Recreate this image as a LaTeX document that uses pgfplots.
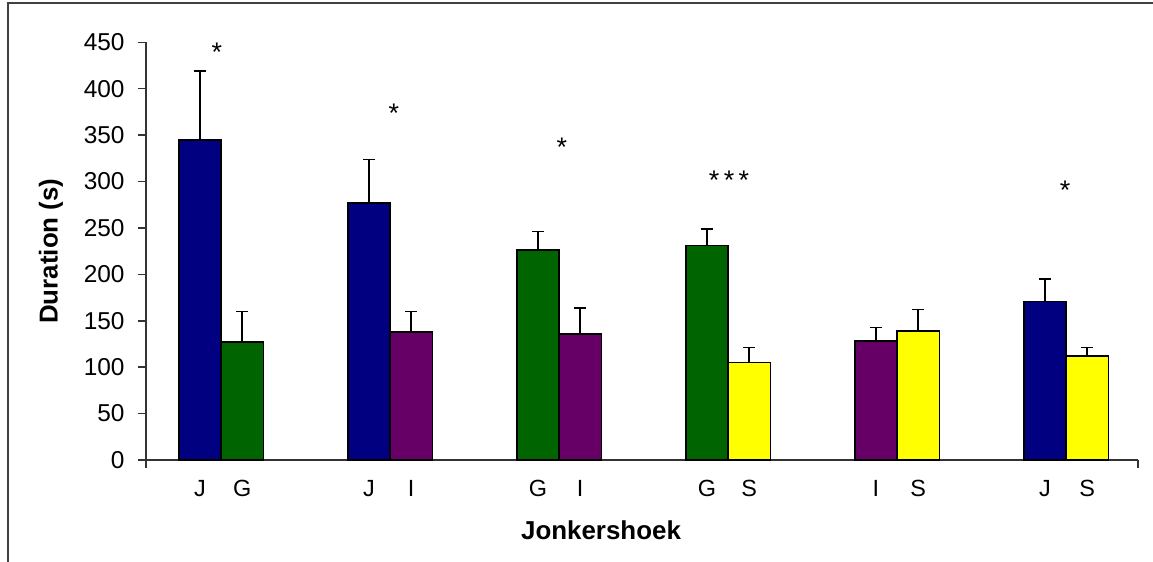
\documentclass[border=0pt]{standalone}
\usepackage{pgfplots}
\pgfplotsset{compat=1.18}
\usepackage{fontspec}
\setmainfont{Liberation Sans}
\definecolor{cJ}{RGB}{0,0,128}
\definecolor{cG}{RGB}{0,100,0}
\definecolor{cI}{RGB}{102,0,102}
\definecolor{cS}{RGB}{255,255,0}
\begin{document}
\begin{tikzpicture}
\path[use as bounding box] (0,0) rectangle (1153bp,562bp);
\draw[line width=2.2bp, black!75] (8bp,0) -- (8bp,559bp) -- (1153bp,559bp);
\begin{axis}[
  at={(146bp,102bp)}, anchor=south west,
  scale only axis, width=992bp, height=417.7bp,
  xmin=-0.444, xmax=5.426, ymin=0, ymax=450,
  axis x line=bottom, axis y line=left,
  axis line style={-, line width=1.5bp, black!80},
  ytick={0,50,...,450},
  ytick style={line width=1.5bp, black!80},
  y tick label style={font=\fontsize{24.5}{28}\selectfont, xshift=-10bp},
  /pgf/number format/assume math mode=true,
  tick align=outside,
  major tick length=8bp,
  xtick={-0.125,0.125,0.875,1.125,1.875,2.125,2.875,3.125,3.875,4.125,4.875,5.125},
  xticklabels={J,G,J,I,G,I,G,S,I,S,J,S},
  x tick style={draw=none},
  x tick label style={font=\fontsize{23.5}{26}\selectfont, yshift=-9bp},
  extra x ticks={-0.444,5.426},
  extra x tick labels={},
  extra x tick style={x tick style={draw=black!80, line width=1.5bp}, major tick length=8bp},
  xlabel={Jonkershoek},
  xlabel style={font=\bfseries\fontsize{26}{30}\selectfont, at={(axis description cs:0.4587,-0.1676)}, anchor=center},
  ylabel={Duration (s)},
  ylabel style={font=\bfseries\fontsize{26}{30}\selectfont, at={(axis description cs:-0.0958,0.5)}, anchor=center},
  clip=false,
]
\addplot[ybar, bar shift=0pt, bar width=0.25, fill=cJ, draw=black, line width=1.5bp,
  error bars/.cd, y dir=plus, y explicit, error bar style={line width=1.5bp, black}, error mark options={rotate=90, mark size=6bp, line width=1.5bp}]
  coordinates {(-0.125,345) +- (0,74) (0.875,277) +- (0,47) (4.875,171) +- (0,24)};
\addplot[ybar, bar shift=0pt, bar width=0.25, fill=cG, draw=black, line width=1.5bp,
  error bars/.cd, y dir=plus, y explicit, error bar style={line width=1.5bp, black}, error mark options={rotate=90, mark size=6bp, line width=1.5bp}]
  coordinates {(0.125,127) +- (0,33) (1.875,226) +- (0,20) (2.875,231) +- (0,18)};
\addplot[ybar, bar shift=0pt, bar width=0.25, fill=cI, draw=black, line width=1.5bp,
  error bars/.cd, y dir=plus, y explicit, error bar style={line width=1.5bp, black}, error mark options={rotate=90, mark size=6bp, line width=1.5bp}]
  coordinates {(1.125,138) +- (0,22) (2.125,136) +- (0,28) (3.875,128) +- (0,15)};
\addplot[ybar, bar shift=0pt, bar width=0.25, fill=cS, draw=black, line width=1.5bp,
  error bars/.cd, y dir=plus, y explicit, error bar style={line width=1.5bp, black}, error mark options={rotate=90, mark size=6bp, line width=1.5bp}]
  coordinates {(3.125,105) +- (0,16) (4.125,139) +- (0,23) (5.125,112) +- (0,9)};
\node[anchor=base, font=\fontsize{27}{30}\selectfont] at (axis cs:-0.024,429) {*};
\node[anchor=base, font=\fontsize{27}{30}\selectfont] at (axis cs:1.023,364) {*};
\node[anchor=base, font=\fontsize{27}{30}\selectfont] at (axis cs:2.017,327) {*};
\node[anchor=base, font=\fontsize{27}{30}\selectfont] at (axis cs:3.006,291) {*\,*\,*};
\node[anchor=base, font=\fontsize{27}{30}\selectfont] at (axis cs:4.994,281) {*};
\end{axis}
\end{tikzpicture}
\end{document}
